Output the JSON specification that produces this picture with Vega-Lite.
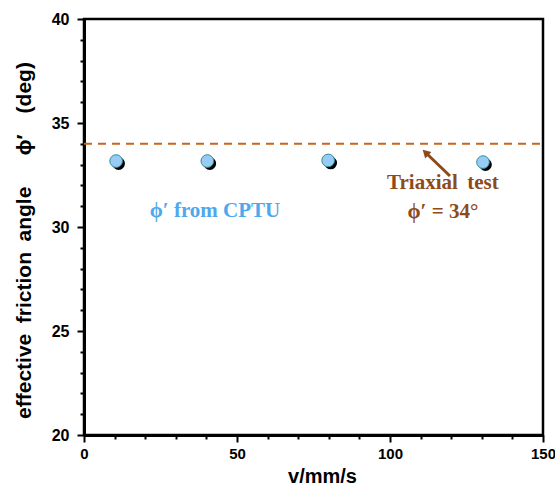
{
  "$schema": "https://vega.github.io/schema/vega-lite/v6.json",
  "width": 459,
  "height": 416,
  "autosize": {"type": "none"},
  "padding": {"left": 84, "top": 19, "right": 12, "bottom": 55},
  "background": "white",
  "config": {
    "view": {"stroke": "black", "strokeWidth": 2.5},
    "axis": {
      "grid": false,
      "domainColor": "black",
      "domainWidth": 3,
      "tickColor": "black",
      "tickWidth": 2,
      "labelFont": "Liberation Sans",
      "labelFontWeight": "bold",
      "labelFontSize": 16,
      "labelColor": "black",
      "titleFont": "Liberation Sans",
      "titleFontWeight": "bold",
      "titleFontSize": 20,
      "titleColor": "black"
    }
  },
  "resolve": {"axis": {"x": "independent", "y": "independent"}},
  "datasets": {
    "cptu": [
      {"v": 10.5, "phi": 33.17},
      {"v": 40.3, "phi": 33.17},
      {"v": 79.8, "phi": 33.2},
      {"v": 130.4, "phi": 33.12}
    ],
    "triax": [{"v0": 0, "v1": 150, "phi": 34}],
    "arrow": [{"xa": 119.6, "ya": 32.45, "xb": 111.6, "yb": 33.58}],
    "labels": [
      {"v": 117.3, "phi": 32.12, "text": "Triaxial\u2009 test"},
      {"v": 117.3, "phi": 30.72, "text": "ϕ′ = 34°"}
    ],
    "cptulabel": [{"v": 42.8, "phi": 30.77, "text": "ϕ′ from CPTU"}]
  },
  "layer": [
    {
      "data": {"name": "triax"},
      "mark": {"type": "rule", "opacity": 0},
      "encoding": {
        "x": {
          "field": "v0", "type": "quantitative",
          "scale": {"domain": [0, 150], "nice": false},
          "axis": {
            "orient": "bottom",
            "title": null,
            "labels": false,
            "domain": false,
            "values": [10,20,30,40,60,70,80,90,110,120,130,140],
            "tickSize": 4
          }
        },
        "y": {
          "field": "phi", "type": "quantitative",
          "scale": {"domain": [20, 40], "nice": false},
          "axis": {
            "orient": "left",
            "title": null,
            "labels": false,
            "domain": false,
            "values": [21,22,23,24,26,27,28,29,31,32,33,34,36,37,38,39],
            "tickSize": 4
          }
        }
      }
    },
    {
      "data": {"name": "triax"},
      "mark": {"type": "rule", "color": "#C8651E", "strokeWidth": 2, "strokeDash": [8, 6]},
      "encoding": {
        "x": {
          "field": "v0", "type": "quantitative",
          "scale": {"domain": [0, 150], "nice": false},
          "axis": {
            "orient": "bottom",
            "title": "v/mm/s",
            "titleX": 238,
            "values": [0, 50, 100, 150],
            "labelOverlap": false,
            "labelFlush": false,
            "labelFontSize": 15,
            "tickSize": 7,
            "labelPadding": 4,
            "titlePadding": 5
          }
        },
        "x2": {"field": "v1"},
        "y": {
          "field": "phi", "type": "quantitative",
          "scale": {"domain": [20, 40], "nice": false},
          "axis": {
            "orient": "left",
            "title": "effective\u2002friction\u2002angle\u2003\u2002ϕ′\u2003(deg)",
            "titleFontSize": 21,
            "titleY": 221,
            "values": [20, 25, 30, 35, 40],
            "labelOverlap": false,
            "labelFlush": false,
            "tickSize": 7,
            "labelPadding": 8,
            "titlePadding": 17
          }
        }
      }
    },
    {
      "data": {"name": "cptu"},
      "mark": {"type": "circle", "color": "black", "opacity": 1, "size": 160, "xOffset": 2.5, "yOffset": 2.5},
      "encoding": {
        "x": {"field": "v", "type": "quantitative", "axis": null},
        "y": {"field": "phi", "type": "quantitative", "axis": null}
      }
    },
    {
      "data": {"name": "cptu"},
      "mark": {"type": "circle", "fill": "#99CCF5", "stroke": "#2E8C98", "strokeWidth": 1, "opacity": 1, "size": 160},
      "encoding": {
        "x": {"field": "v", "type": "quantitative", "axis": null},
        "y": {"field": "phi", "type": "quantitative", "axis": null}
      }
    },
    {
      "data": {"name": "arrow"},
      "mark": {"type": "rule", "color": "#8E4A1B", "strokeWidth": 3},
      "encoding": {
        "x": {"field": "xa", "type": "quantitative", "axis": null},
        "y": {"field": "ya", "type": "quantitative", "axis": null},
        "x2": {"field": "xb"},
        "y2": {"field": "yb"}
      }
    },
    {
      "data": {"name": "arrow"},
      "mark": {"type": "point", "shape": "triangle-up", "filled": true, "color": "#8E4A1B", "opacity": 1, "size": 80, "angle": -46},
      "encoding": {
        "x": {"field": "xb", "type": "quantitative", "axis": null},
        "y": {"field": "yb", "type": "quantitative", "axis": null}
      }
    },
    {
      "data": {"name": "labels"},
      "mark": {"type": "text", "font": "Liberation Serif", "fontWeight": "bold", "fontSize": 21, "color": "#8E4A1B", "align": "center", "baseline": "middle"},
      "encoding": {
        "x": {"field": "v", "type": "quantitative", "axis": null},
        "y": {"field": "phi", "type": "quantitative", "axis": null},
        "text": {"field": "text"}
      }
    },
    {
      "data": {"name": "cptulabel"},
      "mark": {"type": "text", "font": "Liberation Serif", "fontWeight": "bold", "fontSize": 21, "color": "#4FA8EC", "align": "center", "baseline": "middle"},
      "encoding": {
        "x": {"field": "v", "type": "quantitative", "axis": null},
        "y": {"field": "phi", "type": "quantitative", "axis": null},
        "text": {"field": "text"}
      }
    }
  ]
}
